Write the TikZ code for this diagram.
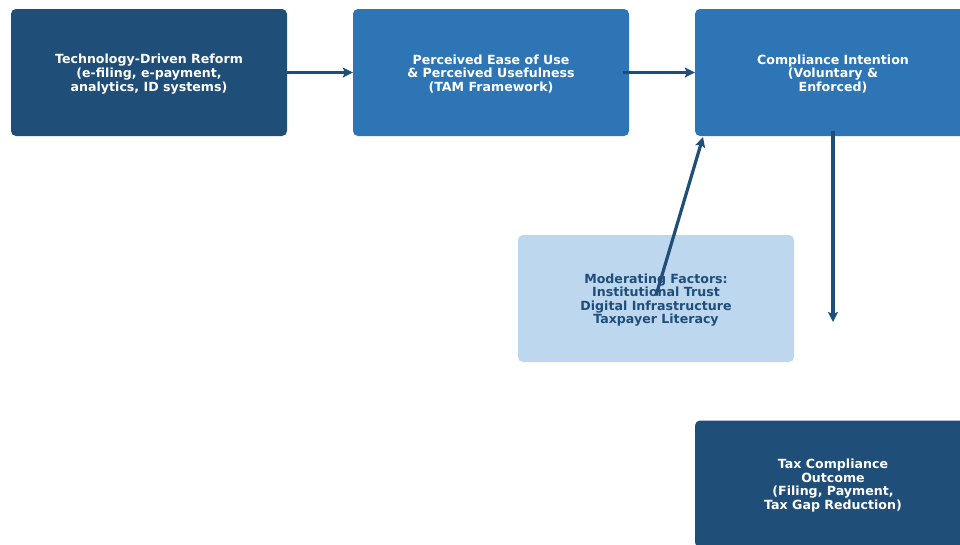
\documentclass[tikz,border=0pt]{standalone}
\usepackage{fontspec}
\setmainfont{DejaVu Sans}
\usetikzlibrary{arrows.meta}
\definecolor{darkblue}{HTML}{1F4E79}
\definecolor{midblue}{HTML}{2E75B6}
\definecolor{lightblue}{HTML}{BDD7EE}
\newcommand{\boxtext}[1]{\raisebox{-1.5pt}[\height][\depth]{\parbox{276pt}{\centering #1}}}
\begin{document}
\begin{tikzpicture}[x=1pt,y=-1pt,
  box/.style={rectangle,rounded corners=5pt,minimum width=276pt,minimum height=127pt,
    inner sep=0pt,align=center,font=\fontsize{12.6}{13.6}\selectfont\bfseries,text=white},
  darkbox/.style={box,fill=darkblue},
  midbox/.style={box,fill=midblue},
  lightbox/.style={box,fill=lightblue,text=darkblue},
  conn/.style={draw=darkblue,line width=3.2pt,-{Stealth[length=10pt,width=10pt,inset=2pt]}}]
\useasboundingbox (0,0) rectangle (960,544);
\node[darkbox] (b1) at (149,72.5) {\boxtext{Technology-Driven Reform\\(e-filing, e-payment,\\analytics, ID systems)}};
\node[midbox] (b2) at (491,72.5) {\boxtext{Perceived Ease of Use\\\& Perceived Usefulness\\(TAM Framework)}};
\node[midbox] (b3) at (833,72.5) {\boxtext{Compliance Intention\\(Voluntary \&\\Enforced)}};
\node[lightbox] (b4) at (656,298.5) {\boxtext{Moderating Factors:\\Institutional Trust\\Digital Infrastructure\\Taxpayer Literacy}};
\node[darkbox] (b5) at (833,484) {\boxtext{Tax Compliance\\Outcome\\(Filing, Payment,\\Tax Gap Reduction)}};
\coordinate (c1) at (703,137);
\coordinate (c2) at (833,322);
\draw[conn] (b1.east) -- (b2.west);
\draw[conn] ([xshift=-6pt]b2.east) -- (b3.west);
\draw[conn] ([yshift=3pt]b4.center) -- (c1);
\draw[conn] ([yshift=5pt]b3.south) -- (c2);
\end{tikzpicture}
\end{document}
